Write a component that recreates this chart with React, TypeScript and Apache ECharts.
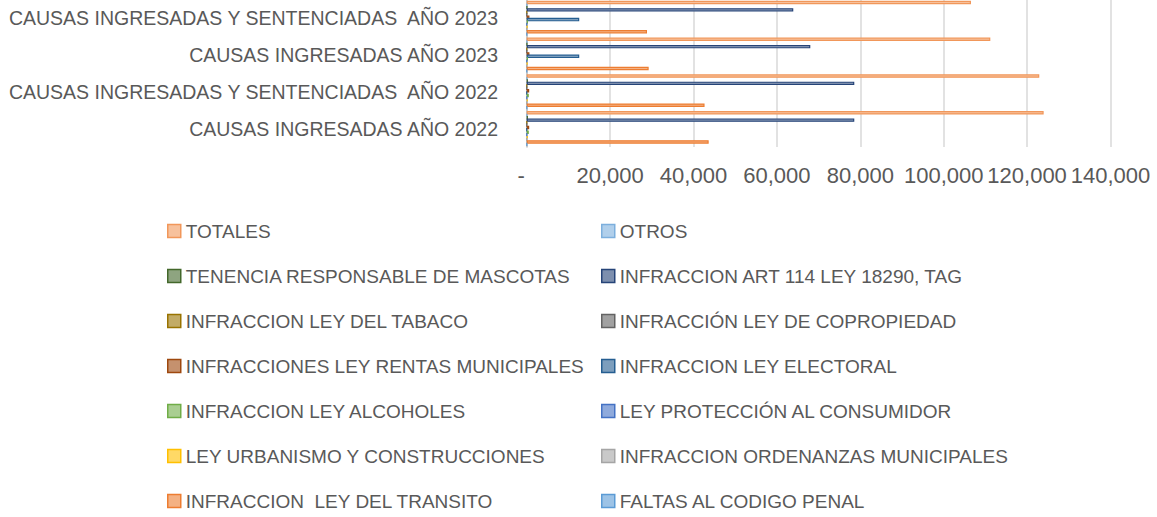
import React, { useEffect, useRef } from "react";
import * as echarts from "echarts";

// Categories, bottom to top
const categories = [
  "CAUSAS INGRESADAS AÑO 2022",
  "CAUSAS INGRESADAS Y SENTENCIADAS  AÑO 2022",
  "CAUSAS INGRESADAS AÑO 2023",
  "CAUSAS INGRESADAS Y SENTENCIADAS  AÑO 2023",
];

const xMin = 0;
const xMax = 140000;
const xInterval = 20000;

// Series values (same category order)
const faltasCodigoPenal = [50, 50, 40, 40];
const leyTransito = [43640, 42650, 29250, 28850];
const ordenanzasMunicipales = [30, 30, 30, 30];
const urbanismo = [250, 250, 200, 200];
const proteccionConsumidor = [50, 50, 40, 40];
const leyAlcoholes = [500, 500, 300, 300];
const leyElectoral = [0, 0, 12600, 12600];
const rentasMunicipales = [600, 600, 650, 650];
const copropiedad = [20, 20, 20, 20];
const leyTabaco = [30, 30, 30, 30];
const art114Tag = [78560, 78560, 68010, 63930];
const tenenciaMascotas = [300, 300, 100, 100];
const otros = [100, 100, 80, 80];
const totales = [123970, 122920, 111180, 106540];

// Excel series order (first = bottom of each group)
const seriesList = [
  { name: "FALTAS AL CODIGO PENAL", color: "#5B9BD5", data: faltasCodigoPenal },
  { name: "INFRACCION  LEY DEL TRANSITO", color: "#ED7D31", data: leyTransito },
  { name: "INFRACCION ORDENANZAS MUNICIPALES", color: "#A5A5A5", data: ordenanzasMunicipales },
  { name: "LEY URBANISMO Y CONSTRUCCIONES", color: "#FFC000", data: urbanismo },
  { name: "LEY PROTECCIÓN AL CONSUMIDOR", color: "#4472C4", data: proteccionConsumidor },
  { name: "INFRACCION LEY ALCOHOLES", color: "#70AD47", data: leyAlcoholes },
  { name: "INFRACCION LEY ELECTORAL", color: "#255E91", data: leyElectoral },
  { name: "INFRACCIONES LEY RENTAS MUNICIPALES", color: "#9E480E", data: rentasMunicipales },
  { name: "INFRACCIÓN LEY DE COPROPIEDAD", color: "#636363", data: copropiedad },
  { name: "INFRACCION LEY DEL TABACO", color: "#997300", data: leyTabaco },
  { name: "INFRACCION ART 114 LEY 18290, TAG", color: "#264478", data: art114Tag },
  { name: "TENENCIA RESPONSABLE DE MASCOTAS", color: "#43682B", data: tenenciaMascotas },
  { name: "OTROS", color: "#7CAFDD", data: otros },
  { name: "TOTALES", color: "#F1975A", data: totales },
];

const legendLeft = [
  "TOTALES",
  "TENENCIA RESPONSABLE DE MASCOTAS",
  "INFRACCION LEY DEL TABACO",
  "INFRACCIONES LEY RENTAS MUNICIPALES",
  "INFRACCION LEY ALCOHOLES",
  "LEY URBANISMO Y CONSTRUCCIONES",
  "INFRACCION  LEY DEL TRANSITO",
];
const legendRight = [
  "OTROS",
  "INFRACCION ART 114 LEY 18290, TAG",
  "INFRACCIÓN LEY DE COPROPIEDAD",
  "INFRACCION LEY ELECTORAL",
  "LEY PROTECCIÓN AL CONSUMIDOR",
  "INFRACCION ORDENANZAS MUNICIPALES",
  "FALTAS AL CODIGO PENAL",
];

function lighten(hex: string, alpha: number) {
  const r = parseInt(hex.slice(1, 3), 16);
  const g = parseInt(hex.slice(3, 5), 16);
  const b = parseInt(hex.slice(5, 7), 16);
  const mix = (c: number) => Math.round(c * alpha + 255 * (1 - alpha));
  return `rgb(${mix(r)},${mix(g)},${mix(b)})`;
}

const FONT = "'Liberation Sans', Arial, sans-serif";
const TEXT = "#595959";

export default function App() {
  const ref = useRef<HTMLDivElement>(null);
  useEffect(() => {
    document.body.style.margin = "0";
    if (!ref.current) return;
    const chart = echarts.init(ref.current, undefined, { renderer: "svg" });
    // ECharts places first series at top of group; reverse Excel order
    const ordered = [...seriesList].reverse();
    const legendCommon = {
      type: "plain" as const,
      orient: "vertical" as const,
      top: 216,
      height: 400,
      itemWidth: 13,
      itemHeight: 13,
      itemGap: 25,
      icon: "rect",
      itemStyle: { borderWidth: 1.5 },
      textStyle: { color: TEXT, fontFamily: FONT, fontSize: 19, lineHeight: 20 },
      selectedMode: false,
    };
    chart.setOption({
      animation: false,
      grid: { left: 526.7, right: 46.5, top: 0, height: 147, containLabel: false },
      legend: [
        { ...legendCommon, left: 162, data: legendLeft },
        { ...legendCommon, left: 596, data: legendRight },
      ],
      xAxis: {
        type: "value",
        min: xMin,
        max: xMax,
        interval: xInterval,
        axisLine: { show: false },
        axisTick: { show: false },
        splitLine: { lineStyle: { color: "#D9D9D9", width: 1.5 } },
        axisLabel: {
          color: TEXT,
          fontFamily: FONT,
          fontSize: 22,
          margin: 17,
          formatter: (v: number) => (v === 0 ? "-\u2002" : v.toLocaleString("en-US")),
        },
      },
      yAxis: {
        type: "category",
        data: categories,
        axisLine: { show: true, lineStyle: { color: "#BFBFBF", width: 1.5 } },
        axisTick: { show: false },
        axisLabel: { color: TEXT, fontFamily: FONT, fontSize: 19.5, margin: 28.7 },
      },
      series: ordered.map((s) => ({
        name: s.name,
        type: "bar",
        data: s.data,
        barGap: "-30%",
        barCategoryGap: "4.6%",
        itemStyle: {
          color: lighten(s.color, 0.6),
          borderColor: s.color,
          borderWidth: 1.2,
        },
      })),
    });
    return () => chart.dispose();
  }, []);
  return <div ref={ref} style={{ width: 1157, height: 517 }} />;
}
